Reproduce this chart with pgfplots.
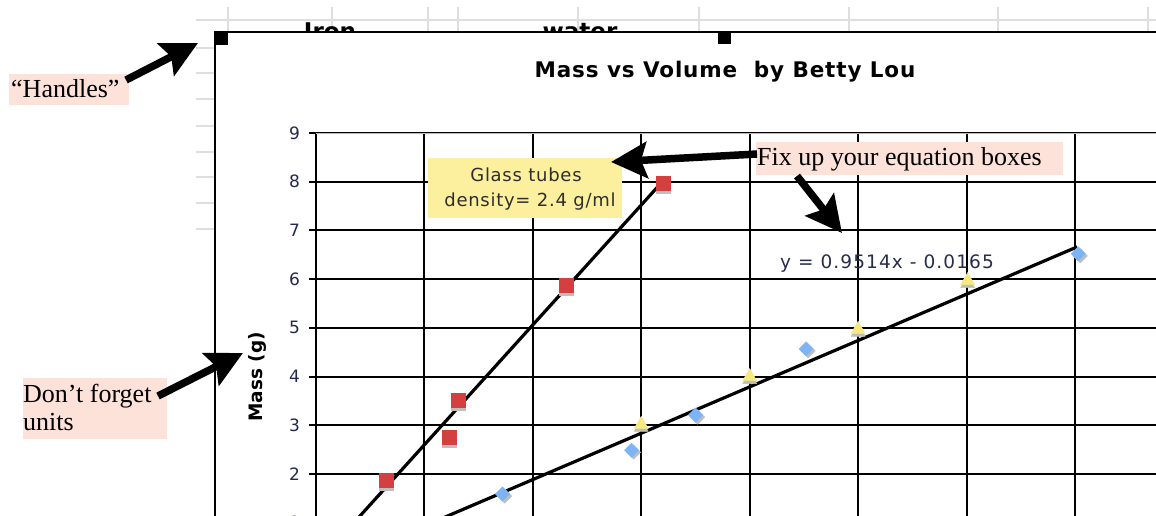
\documentclass[border=0pt]{standalone}
\usepackage{fontspec}
\setmainfont{Liberation Serif}
\newfontfamily\dejavu{DejaVu Sans}
\newfontfamily\boxfont[LetterSpace=4]{DejaVu Sans}
\newfontfamily\eqfont[LetterSpace=6]{DejaVu Sans}
\newfontfamily\titlefont[LetterSpace=4]{DejaVu Sans}
\usepackage{pgfplots}
\usepackage{pgfplotstable}
\pgfplotsset{compat=1.18}
\usetikzlibrary{arrows.meta}

\definecolor{pinkbg}{RGB}{253,226,218}
\definecolor{yellowbg}{RGB}{252,239,158}
\definecolor{redm}{RGB}{212,64,64}
\definecolor{bluem}{RGB}{125,180,245}
\definecolor{yellowm}{RGB}{248,232,130}
\definecolor{shadow}{RGB}{190,190,190}
\definecolor{sheet}{RGB}{222,222,222}
\definecolor{ticknavy}{RGB}{35,40,80}
\definecolor{eqcol}{RGB}{40,45,75}

\pgfplotstableread{
x y
0.65 1.88
1.23 2.76
1.31 3.52
2.31 5.88
3.20 7.96
}\glass

\pgfplotstableread{
x y
1.72 1.59
2.91 2.49
3.50 3.21
4.52 4.57
7.03 6.52
}\waterA

\pgfplotstableread{
x y
3.00 3.02
4.00 4.00
5.00 4.97
6.01 5.97
}\waterB

\begin{document}
\begin{tikzpicture}
\useasboundingbox (0,0) rectangle (1156pt,-515pt);
\clip (0,0) rectangle (1156pt,-515pt);
\begin{scope}[x=1pt,y=-1pt]
  \fill[white] (0,0) rectangle (1156,515);
  % spreadsheet background
  \foreach \xx in {228,332,428,458,578,699,849,998,1148}
    \draw[sheet,line width=1.3pt] (\xx,7) -- (\xx,32);
  \draw[sheet,line width=1.3pt] (196,20) -- (1156,20);
  \foreach \yy in {48,73,99,126,152,177,203,229}
    \draw[sheet,line width=1.3pt] (196,\yy) -- (215,\yy);
  \node[anchor=base,inner sep=0] at (330,39) {\dejavu\bfseries\fontsize{23}{23}\selectfont Iron};
  \node[anchor=base,inner sep=0] at (580,39) {\dejavu\bfseries\fontsize{23}{23}\selectfont water};
  % chart area
  \fill[white] (215,32) rectangle (1160,520);
  \draw[black,line width=2pt] (215,520) -- (215,32) -- (1160,32);
  \fill[black] (214,31) rectangle (228,45);
  \fill[black] (718,31) rectangle (731,44);
  % title
  \node[anchor=base,inner sep=0] at (725,77) {\titlefont\bfseries\fontsize{21.5}{21.5}\selectfont Mass vs Volume\ \ by Betty Lou};
\end{scope}

\begin{axis}[
  at={(316pt,-522.7pt)}, anchor=south west,
  scale only axis, width=867.4pt, height=389.7pt,
  xmin=0, xmax=8, ymin=1, ymax=9,
  xtick={0,...,8}, ytick={1,...,9},
  xticklabels={},
  axis y line*=left, axis x line*=bottom,
  axis line style={black,line width=2pt},
  tick align=outside, major tick length=7pt,
  tick style={black,line width=2pt},
  grid=major, major grid style={black,line width=2pt},
  /pgf/number format/assume math mode=true,
  yticklabel style={font=\dejavu\fontsize{17}{17}\selectfont, text=ticknavy, xshift=-5.5pt},
  ylabel={Mass (g)},
  every axis y label/.style={at={(axis description cs:-0.068,0.374)}, rotate=90, anchor=center,
    font=\dejavu\bfseries\fontsize{18.5}{18.5}\selectfont},
]
% shadows
\addplot[only marks, color=shadow, mark=square*, mark size=7pt, mark options={draw=shadow, fill=shadow, yshift=-3pt}] table {\glass};
\addplot[only marks, color=shadow, mark=square*, mark size=5pt, mark options={draw=shadow, fill=shadow, rotate=45, yshift=-3pt}] table {\waterA};
\addplot[only marks, color=shadow, mark=triangle*, mark size=8pt, mark options={draw=shadow, fill=shadow, yshift=-3pt}] table {\waterB};
% markers
\addplot[only marks, color=redm, mark=square*, mark size=7pt, mark options={draw=redm, fill=redm}] table {\glass};
\addplot[only marks, color=bluem, mark=square*, mark size=5pt, mark options={draw=bluem, fill=bluem, rotate=45}] table {\waterA};
\addplot[only marks, color=yellowm, mark=triangle*, mark size=8pt, mark options={draw=yellowm, fill=yellowm}] table {\waterB};
% fit lines
\addplot[black, line width=3.2pt] coordinates {(0.2,0.632) (3.19,7.99)};
\addplot[black, line width=3.2pt] coordinates {(0.5,0.459) (7.02,6.662)};
\draw[gray!55,line width=2pt] (axis cs:0,9) -- (axis cs:8,9);
\end{axis}

\begin{scope}[x=1pt,y=-1pt]
  % yellow equation box
  \fill[yellowbg] (428,158) rectangle (622,218);
  \node[anchor=base,inner sep=0,text=black!82] at (526,181) {\boxfont\fontsize{18}{18}\selectfont Glass tubes};
  \node[anchor=base,inner sep=0,text=black!82] at (530,206) {\boxfont\fontsize{18}{18}\selectfont density= 2.4 g/ml};
  % regression equation
  \node[anchor=base,inner sep=0,text=eqcol] at (887,268) {\eqfont\fontsize{18.5}{18.5}\selectfont y = 0.9514x - 0.0165};
  % pink annotations
  \fill[pinkbg] (9,74) rectangle (129,105);
  \node[anchor=base west,inner sep=0] at (11,97) {\fontsize{26}{26}\selectfont “Handles”};
  \fill[pinkbg] (756,142) rectangle (1063,175);
  \node[anchor=base west,inner sep=0] at (757,165) {\fontsize{26}{26}\selectfont Fix up your equation boxes};
  \fill[pinkbg] (23,378) rectangle (167,439);
  \node[anchor=base west,inner sep=0] at (23,402) {\fontsize{26}{26}\selectfont Don’t forget};
  \node[anchor=base west,inner sep=0] at (23,430) {\fontsize{26}{26}\selectfont units};
  % arrows
  \draw[line width=7.5pt,-{Stealth[length=36pt,width=36pt,inset=6pt]}] (126,80) -- (198,43);
  \draw[line width=7.5pt,-{Stealth[length=36pt,width=36pt,inset=6pt]}] (757,154) -- (611,162);
  \draw[line width=7.5pt,-{Stealth[length=36pt,width=36pt,inset=6pt]}] (797,176) -- (842,233);
  \draw[line width=7.5pt,-{Stealth[length=36pt,width=36pt,inset=6pt]}] (158,396) -- (243,353);
\end{scope}
\end{tikzpicture}
\end{document}
